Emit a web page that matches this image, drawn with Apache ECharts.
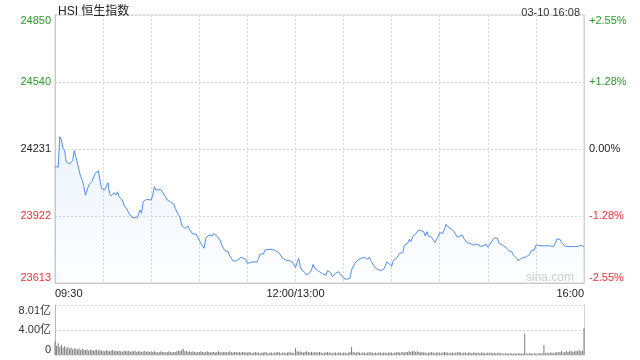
<!DOCTYPE html>
<html>
<head>
<meta charset="utf-8">
<title>HSI 恒生指数</title>
<script src="https://cdn.jsdelivr.net/npm/echarts@6/dist/echarts.min.js"></script>
<style>
  html, body { margin: 0; padding: 0; background: #fff; }
  #chart { width: 640px; height: 360px; }
</style>
</head>
<body>
<div id="chart"></div>
<script>
// 分时数据：[距开盘分钟数, 点位]
const pricePoints = [
  [0, 24150], [2, 24148], [3, 24288], [4, 24273], [5, 24235], [6, 24224], [7, 24173], [8, 24181], [9, 24162],
  [11, 24178], [12, 24224], [13, 24196], [15, 24135], [16, 24104], [17, 24088], [18, 24058], [19, 24018],
  [21, 24065], [22, 24061], [23, 24081], [24, 24073], [25, 24119], [27, 24131], [28, 24127], [29, 24050],
  [30, 24042], [31, 24042], [32, 24034], [33, 24076], [34, 24027], [35, 24015], [37, 24030], [38, 24019],
  [39, 24034], [40, 24011], [41, 24019], [42, 23996], [43, 23973], [45, 23953], [46, 23935], [48, 23916],
  [49, 23922], [51, 23913], [52, 23927], [53, 23950], [54, 23935], [55, 23988], [56, 23996], [57, 23999],
  [58, 23993], [60, 23996], [61, 24019], [62, 24058], [63, 24042], [64, 24034], [66, 24045], [67, 24033],
  [69, 24011], [70, 23996], [71, 24004], [72, 23988], [74, 23978], [75, 23958], [77, 23927], [78, 23916],
  [79, 23881], [81, 23865], [83, 23876], [84, 23858], [86, 23839], [88, 23839], [89, 23845], [91, 23796],
  [92, 23796], [93, 23773], [94, 23819], [96, 23835], [98, 23830], [99, 23842], [101, 23830], [103, 23811],
  [104, 23788], [106, 23762], [108, 23757], [109, 23738], [111, 23715], [113, 23715], [114, 23719], [116, 23732],
  [117, 23732], [119, 23722], [120, 23704], [122, 23707], [124, 23711], [126, 23709], [127, 23727], [128, 23747],
  [130, 23747], [131, 23765], [132, 23769], [134, 23769], [135, 23778], [137, 23765], [138, 23762], [140, 23750],
  [142, 23727], [143, 23734], [144, 23719], [146, 23716], [148, 23711], [149, 23711], [150, 23685], [152, 23727],
  [153, 23688], [154, 23673], [156, 23661], [157, 23650], [159, 23661], [160, 23673], [161, 23699], [162, 23681],
  [164, 23670], [165, 23673], [167, 23655], [169, 23649], [170, 23670], [172, 23661], [173, 23642], [175, 23658],
  [177, 23665], [178, 23661], [180, 23635], [182, 23630], [184, 23635], [185, 23673], [187, 23704], [189, 23719],
  [190, 23722], [191, 23727], [193, 23732], [194, 23738], [195, 23722], [196, 23732], [197, 23716], [198, 23711],
  [200, 23681], [201, 23673], [203, 23670], [205, 23676], [206, 23691], [207, 23711], [208, 23704], [210, 23691],
  [211, 23716], [213, 23727], [214, 23738], [215, 23750], [217, 23753], [218, 23788], [220, 23796], [221, 23815],
  [222, 23804], [223, 23824], [225, 23842], [227, 23858], [228, 23864], [230, 23850], [231, 23830], [232, 23850],
  [233, 23830], [235, 23824], [236, 23815], [237, 23799], [239, 23827], [240, 23845], [242, 23842], [244, 23884],
  [245, 23873], [247, 23864], [249, 23850], [251, 23824], [252, 23830], [254, 23835], [255, 23819], [257, 23799],
  [259, 23796], [260, 23799], [261, 23788], [263, 23793], [264, 23784], [266, 23781], [267, 23788], [269, 23792],
  [270, 23778], [271, 23788], [273, 23811], [274, 23822], [276, 23819], [277, 23796], [278, 23788], [280, 23784],
  [282, 23773], [283, 23762], [285, 23757], [286, 23742], [288, 23727], [289, 23716], [291, 23727], [292, 23734],
  [294, 23734], [296, 23744], [297, 23762], [299, 23765], [300, 23788], [301, 23784], [303, 23785], [305, 23784],
  [307, 23785], [309, 23784], [311, 23781], [312, 23796], [313, 23815], [315, 23815], [316, 23799], [318, 23784],
  [320, 23781], [322, 23781], [324, 23782], [326, 23781], [328, 23787], [330, 23781],
]

// 每分钟成交额（亿），下标即分钟数
const volumes = [
  2.2, 1.5, 1.9, 1.3, 1.6, 1.2, 1.4, 1.1, 1.3, 1.0, 1.2, 0.9, 1.1, 1.0, 0.9, 1.1, 0.8, 1.0, 0.9, 0.8, 0.9, 0.7, 0.9, 0.8, 0.7, 0.8, 0.9, 0.7, 0.8, 0.7,
  0.7, 0.6, 0.8, 0.7, 0.6, 0.7, 0.8, 0.6, 0.7, 0.6, 0.7, 0.6, 0.5, 0.7, 0.6, 0.6, 0.7, 0.5, 0.6, 0.6, 0.7, 0.5, 0.6, 0.6, 0.5, 0.6, 0.7, 0.5, 0.6, 0.5,
  0.6, 0.5, 0.6, 0.5, 0.4, 0.5, 0.6, 0.5, 0.5, 0.4, 0.5, 0.6, 0.5, 0.4, 0.5, 0.5, 0.6, 0.7, 0.6, 0.8, 1.0, 0.6, 0.7, 0.5, 0.6, 0.5, 0.6, 0.5, 0.4, 0.5,
  0.5, 0.6, 0.5, 0.4, 0.5, 0.6, 0.5, 0.4, 0.5, 0.5, 0.4, 0.5, 0.6, 0.5, 0.4, 0.5, 0.5, 0.4, 0.5, 0.6, 0.5, 0.4, 0.5, 0.5, 0.4, 0.5, 0.4, 0.5, 0.5, 0.4,
  0.4, 0.5, 0.4, 0.3, 0.4, 0.5, 0.4, 0.4, 0.3, 0.4, 0.4, 0.5, 0.4, 0.3, 0.4, 0.4, 0.3, 0.4, 0.4, 0.5, 0.4, 0.3, 0.4, 0.4, 0.3, 0.4, 0.5, 0.4, 0.4, 0.3,
  1.1, 0.6, 0.5, 0.6, 0.5, 0.4, 0.5, 0.6, 0.5, 0.4, 0.5, 0.4, 0.5, 0.4, 0.4, 0.5, 0.4, 0.3, 0.4, 0.4, 0.5, 0.4, 0.4, 0.3, 0.4, 0.4, 0.3, 0.4, 0.4, 0.3,
  0.4, 0.4, 0.3, 0.4, 0.5, 1.3, 0.5, 0.4, 0.4, 0.5, 0.4, 0.3, 0.4, 0.4, 0.3, 0.4, 0.5, 0.4, 0.4, 0.3, 0.4, 0.3, 0.4, 0.4, 0.3, 0.4, 0.4, 0.3, 0.4, 0.4,
  0.4, 0.3, 0.4, 0.4, 0.5, 0.4, 0.4, 0.5, 0.4, 0.5, 0.5, 0.6, 0.5, 0.6, 0.7, 0.5, 0.6, 0.5, 0.4, 0.5, 0.4, 0.4, 0.3, 0.4, 0.4, 0.5, 0.4, 0.3, 0.4, 0.4,
  0.4, 0.3, 0.4, 0.5, 0.4, 0.4, 0.3, 0.4, 0.4, 0.3, 0.4, 0.4, 0.5, 0.4, 0.3, 0.4, 0.4, 0.3, 0.4, 0.4, 0.3, 0.4, 0.4, 0.3, 0.4, 0.3, 0.4, 0.4, 0.3, 0.3,
  0.4, 0.3, 0.4, 0.3, 0.4, 0.3, 0.3, 0.4, 0.3, 0.3, 0.2, 0.3, 0.3, 0.2, 0.3, 0.3, 0.2, 0.3, 0.2, 0.3, 0.3, 0.2, 0.3, 3.4, 0.3, 0.2, 0.3, 0.3, 0.2, 0.3,
  0.3, 0.2, 0.3, 0.3, 0.3, 1.6, 0.3, 0.4, 0.3, 0.4, 0.4, 0.3, 0.4, 0.5, 0.4, 0.5, 0.6, 0.4, 0.5, 0.7, 0.5, 0.6, 0.7, 0.5, 0.6, 0.7, 0.6, 0.8, 0.6, 0.7,
  4.3,
]

// 坐标轴刻度
const priceTicks = [23613, 23922, 24231, 24540, 24850]
const pctTicks = ['-2.55%', '-1.28%', '0.00%', '+1.28%', '+2.55%']
const timeTickMinutes = [0, 150, 330]
const timeTickLabels = ['09:30', '12:00/13:00', '16:00']
const volTicks = [0, 4.005, 8.01]
const volTickLabels = ['0', '4.00亿', '8.01亿']

const FONT = '"Liberation Sans", Arial, "Noto Sans CJK SC", sans-serif'
const UP = '#22a022'
const DOWN = '#f23030'
const FLAT = '#222'

// 找最近的刻度下标
const nearestIdx = (arr, v) => {
  let best = 0
  arr.forEach((t, i) => {
    if (Math.abs(t - v) < Math.abs(arr[best] - v)) best = i
  })
  return best
}
const tickColor = (v) => {
  const i = nearestIdx(priceTicks, v)
  return i > 2 ? UP : i < 2 ? DOWN : FLAT
}

const chart = echarts.init(document.getElementById('chart'))

const gridLine = { show: true, lineStyle: { color: '#d6d6d6', type: [2, 2], width: 1 } }

const options = {
  animation: false,
  textStyle: { fontFamily: FONT },
  title: [
    {
      text: 'HSI 恒生指数',
      left: 53,
      top: 1,
      textStyle: { fontSize: 12, fontWeight: 'normal', color: '#222', fontFamily: FONT },
    },
    {
      text: '03-10 16:08',
      right: 55,
      top: 2,
      textStyle: { fontSize: 11, fontWeight: 'normal', color: '#333', fontFamily: FONT },
    },
  ],
  grid: [
    { left: 55, right: 56, top: 15, height: 268, show: true, borderColor: '#d2d2d2', borderWidth: 1 },
    { left: 55, right: 56, top: 305, height: 50 },
  ],
  xAxis: [
    {
      type: 'value',
      gridIndex: 0,
      min: 0,
      max: 330,
      interval: 30,
      axisLine: { show: true, lineStyle: { color: '#c8c8c8' } },
      axisTick: { show: false },
      splitLine: gridLine,
      axisLabel: {
        color: '#222',
        fontSize: 11,
        margin: 5,
        showMinLabel: true,
        showMaxLabel: true,
        alignMinLabel: 'left',
        alignMaxLabel: 'right',
        formatter: (v) => {
          const i = timeTickMinutes.indexOf(v)
          return i >= 0 ? timeTickLabels[i] : ''
        },
      },
    },
    {
      type: 'value',
      gridIndex: 1,
      min: 0,
      max: 330,
      interval: 30,
      axisLine: { show: false },
      axisTick: { show: false },
      axisLabel: { show: false },
      splitLine: { show: false },
    },
  ],
  yAxis: [
    {
      type: 'value',
      gridIndex: 0,
      position: 'left',
      min: priceTicks[0],
      max: priceTicks[4],
      interval: (priceTicks[4] - priceTicks[0]) / 4,
      axisLine: { show: true, lineStyle: { color: '#c8c8c8' } },
      axisTick: { show: false },
      splitLine: gridLine,
      axisLabel: {
        fontSize: 11,
        margin: 4,
        verticalAlignMinLabel: 'bottom',
        verticalAlignMaxLabel: 'top',
        formatter: (v) => String(priceTicks[nearestIdx(priceTicks, v)]),
        color: (v) => tickColor(v),
      },
    },
    {
      type: 'value',
      gridIndex: 0,
      position: 'right',
      min: priceTicks[0],
      max: priceTicks[4],
      interval: (priceTicks[4] - priceTicks[0]) / 4,
      axisLine: { show: true, lineStyle: { color: '#d2d2d2' } },
      axisTick: { show: false },
      splitLine: { show: false },
      axisLabel: {
        fontSize: 11,
        margin: 5,
        verticalAlignMinLabel: 'bottom',
        verticalAlignMaxLabel: 'top',
        formatter: (v) => pctTicks[nearestIdx(priceTicks, v)],
        color: (v) => tickColor(v),
      },
    },
    {
      type: 'value',
      gridIndex: 1,
      position: 'left',
      min: 0,
      max: volTicks[2],
      interval: volTicks[1],
      axisLine: { show: true, lineStyle: { color: '#b8b8b8' } },
      axisTick: { show: false },
      splitLine: gridLine,
      axisLabel: {
        fontSize: 11,
        color: '#333',
        margin: 4,
        verticalAlignMinLabel: 'bottom',
        verticalAlignMaxLabel: 'top',
        formatter: (v) => volTickLabels[nearestIdx(volTicks, v)],
      },
    },
    {
      type: 'value',
      gridIndex: 1,
      position: 'right',
      min: 0,
      max: volTicks[2],
      interval: volTicks[1],
      axisLine: { show: true, lineStyle: { color: '#d2d2d2' } },
      axisTick: { show: false },
      axisLabel: { show: false },
      splitLine: { show: false },
    },
  ],
  graphic: [
    {
      type: 'text',
      right: 66,
      top: 272,
      style: { text: 'sina.com', fill: '#cfcfcf', font: '12px ' + FONT },
    },
  ],
  series: [
    {
      name: 'HSI',
      type: 'line',
      xAxisIndex: 0,
      yAxisIndex: 0,
      data: pricePoints,
      showSymbol: false,
      lineStyle: { color: '#4f8cf2', width: 1 },
      areaStyle: {
        origin: 'start',
        color: new echarts.graphic.LinearGradient(0, 0, 0, 1, [
          { offset: 0, color: 'rgba(79, 140, 242, 0.14)' },
          { offset: 1, color: 'rgba(79, 140, 242, 0.02)' },
        ]),
      },
    },
    {
      name: '成交额',
      type: 'bar',
      xAxisIndex: 1,
      yAxisIndex: 2,
      barWidth: 1,
      itemStyle: { color: '#7a7a7a' },
      data: volumes.map((v, i) => [i, v]),
    },
  ],
}

chart.setOption(options)
</script>
</body>
</html>
